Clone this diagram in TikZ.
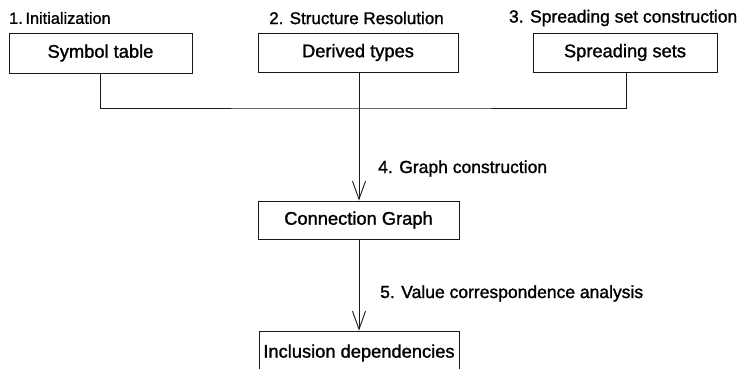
\documentclass[tikz,border=0pt]{standalone}
\usepackage{fontspec}
\setmainfont{Liberation Sans}[FakeBold=1.3]
\usetikzlibrary{arrows.meta}

\tikzset{
  box/.style={draw=black!90, line width=0.9pt, rectangle, inner sep=0pt,
              font=\fontsize{18.3}{20}\selectfont, text=black},
  steplabel/.style={inner sep=0pt, font=\fontsize{17.5}{20}\selectfont, text=black},
  link/.style={draw=black!90, line width=0.9pt},
  flow/.style={link, -{Straight Barb[length=18pt, width=13pt, line width=0.9pt]}}
}

\begin{document}
\begin{tikzpicture}[x=1pt, y=-1pt]
  \useasboundingbox (0,0) rectangle (739,368);

  % phase results
  \node[box, minimum width=183pt, minimum height=40pt] (b1) at (100.5,53) {Symbol table};
  \node[box, minimum width=200pt, minimum height=39pt] (b2) at (358,52.5) {Derived types};
  \node[box, minimum width=184pt, minimum height=39pt] (b3) at (625,52.5) {Spreading sets};
  \node[box, minimum width=201pt, minimum height=38pt] (cg) at (358.5,220) {Connection Graph};
  \node[box, minimum width=200pt, minimum height=42pt, text depth=0pt] (inc) at (359,352) {\raisebox{2pt}{Inclusion dependencies}};

  % phase names
  \node[steplabel, anchor=west, font=\fontsize{16.3}{20}\selectfont] (l1) at (9,18) {1.\,Initialization};
  \node[steplabel, font=\fontsize{17}{20}\selectfont] (l2) at (356.5,18) {2. Structure Resolution};
  \node[steplabel, anchor=east] (l3) at (737.5,18) {3. Spreading set construction};
  \node[steplabel, anchor=base west] (l4) at (378,173) {4. Graph construction};
  \node[steplabel, anchor=base west] (l5) at (380,298) {5. Value correspondence analysis};

  % collecting line below the three upper boxes
  \coordinate (bus) at (359,108);

  \draw[link] (b1.south) |- (bus) -| (b3.south -| {(626,0)});
  \draw[flow] (b2.south -| bus) -- (cg.north -| bus);
  \draw[flow] (cg.south -| bus) -- (inc.north -| bus);
\end{tikzpicture}
\end{document}
